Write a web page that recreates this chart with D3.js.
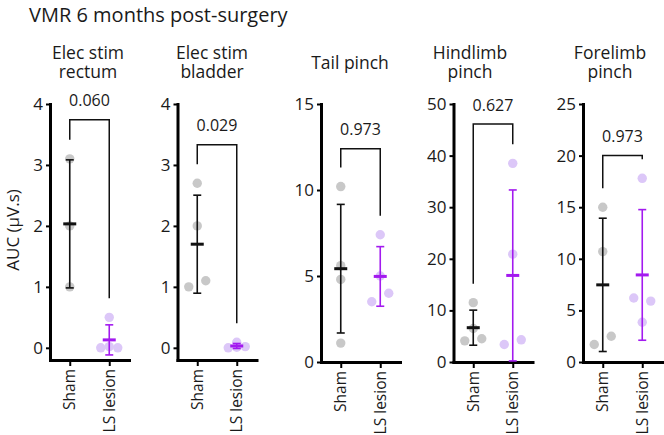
<!DOCTYPE html>
<html><head><meta charset="utf-8">
<script src="https://cdn.jsdelivr.net/npm/d3@7"></script>
<style>
body{margin:0;background:#fff}
text{font-family:"Open Sans",sans-serif;fill:#1a1a1a}
</style>
</head><body>
<svg id="chart" width="664" height="435"></svg>
<script>
// ---------- data ----------
const groups = ["Sham", "LS lesion"];
const chartTitle = "VMR 6 months post-surgery";
const yAxisLabel = "AUC (\u00B5V.s)";
const titles = [["Elec stim","rectum"],["Elec stim","bladder"],["Tail pinch"],["Hindlimb","pinch"],["Forelimb","pinch"]];
const shamValues   = [[3.1,2.0,1.0],[2.7,2.0,1.0,1.1],[10.2,5.6,4.8,1.1],[11.5,6.5,4.1,4.5],[15.0,10.7,1.7,2.5]];
const lesionValues = [[0.5,0.0,0.02,0.0],[0.0,0.09,0.01,0.02],[7.4,5.0,3.5,4.0],[38.5,20.9,3.4,4.3],[17.8,6.2,5.9,3.85]];
const yMin = [-0.2,-0.2,0,0,0];
const yMax = [4,4,15,50,25];
const yTicks = [[0,1,2,3,4],[0,1,2,3,4],[0,5,10,15],[0,10,20,30,40,50],[0,5,10,15,20,25]];
const pValues = ["0.060","0.029","0.973","0.627","0.973"];
const bracketTop = [3.74,3.33,12.4,46.1,20.0];

// ---------- layout / style ----------
const panelLeft = [50,177.5,321,453.5,583];
const panelBottom = [360,360,362,362,362];
const titleCenter = [88,212,350,470,610];
const plotTop = 104, axisW = 79;
const colors = {Sham:{line:"#111111", dot:"#c8c8c8"}, "LS lesion":{line:"#a31aef", dot:"#dcc7f8"}};
const R = 4.7, S = 8.5;

const svg = d3.select("#chart");
svg.append("text").attr("x",29).attr("y",21.5).attr("font-size",20).text(chartTitle);
svg.append("text").attr("transform","translate(19,230) rotate(-90)")
  .attr("text-anchor","middle").attr("font-size",17).text(yAxisLabel);

function swarm(vals, y){
  // cluster overlapping points, spread them sideways
  const idx = vals.map((v,i)=>i).sort((a,b)=>y(vals[a])-y(vals[b]));
  const clusters = [];
  let cur = [idx[0]];
  for(let k=1;k<idx.length;k++){
    if (Math.abs(y(vals[idx[k]])-y(vals[idx[k-1]])) < 2*R) cur.push(idx[k]);
    else { clusters.push(cur); cur=[idx[k]]; }
  }
  clusters.push(cur);
  const off = new Array(vals.length).fill(0);
  clusters.forEach(c=>{
    if (c.length<2) return;
    const ord = c.slice().sort((a,b)=>a-b);
    ord.forEach((i,j)=>{ off[i] = j===0 ? -S : (j===ord.length-1 ? S : 0); });
  });
  return off;
}

titles.forEach((tl,p)=>{
  const g = svg.append("g").attr("transform",`translate(${panelLeft[p]},0)`);
  const bottom = panelBottom[p];
  const y = d3.scaleLinear().domain([yMin[p],yMax[p]]).range([bottom,plotTop]);
  const x = d3.scalePoint().domain(groups).range([0,axisW]).padding(0.5);

  // title (one text element, lines as tspans)
  const tc = titleCenter[p]-panelLeft[p];
  const tt = g.append("text").attr("x",tc).attr("y", tl.length===2 ? 58.5 : 68.5)
      .attr("text-anchor","middle").attr("font-size",17.5);
  tl.forEach((t,k)=> tt.append("tspan").attr("x",tc).attr("dy", k===0 ? 0 : 19).text(t));

  // axes
  const ya = g.append("g").call(d3.axisLeft(y).tickValues(yTicks[p]).tickFormat(d3.format("d"))
      .tickSize(4).tickPadding(3).tickSizeOuter(0));
  ya.select(".domain").attr("stroke","#000").attr("stroke-width",3).attr("stroke-linecap","square");
  ya.selectAll(".tick line").attr("stroke","#000").attr("stroke-width",2);
  ya.selectAll(".tick text").attr("font-size",17).attr("font-family","Open Sans").attr("fill","#1a1a1a");

  const xa = g.append("g").attr("transform",`translate(0,${bottom})`)
    .call(d3.axisBottom(x).tickSize(6).tickSizeOuter(0));
  xa.select(".domain").attr("stroke","#000").attr("stroke-width",3).attr("stroke-linecap","square");
  xa.selectAll(".tick line").attr("stroke","#000").attr("stroke-width",2);
  xa.selectAll(".tick text").remove();
  groups.forEach(gr=>{
    g.append("text").attr("transform",`translate(${x(gr)},${bottom+9}) rotate(-90)`)
      .attr("text-anchor","end").attr("dy","0.35em").attr("font-size",15.5).text(gr);
  });

  // points + error bars (mean ± SD)
  const sets = [[groups[0],shamValues[p]],[groups[1],lesionValues[p]]];
  const tops = [];
  sets.forEach(([gr,vals])=>{
    const off = swarm(vals,y);
    g.append("g").selectAll("circle").data(vals).join("circle")
      .attr("cx",(d,i)=>x(gr)+off[i]).attr("cy",d=>y(d)).attr("r",R)
      .attr("fill",colors[gr].dot);
    const m = d3.mean(vals), sd = d3.deviation(vals);
    const lo = Math.max(m-sd, yMin[p]), hi = m+sd;
    const c = colors[gr].line, cx = x(gr);
    const eb = g.append("g").attr("stroke",c).attr("fill","none");
    eb.append("line").attr("x1",cx).attr("x2",cx).attr("y1",y(lo)).attr("y2",y(hi)).attr("stroke-width",1.6);
    eb.append("line").attr("x1",cx-4).attr("x2",cx+4).attr("y1",y(hi)).attr("y2",y(hi)).attr("stroke-width",1.6);
    if (m-sd >= yMin[p]) eb.append("line").attr("x1",cx-4).attr("x2",cx+4).attr("y1",y(lo)).attr("y2",y(lo)).attr("stroke-width",1.6);
    eb.append("line").attr("x1",cx-6.5).attr("x2",cx+6.5).attr("y1",y(m)).attr("y2",y(m)).attr("stroke-width",3);
    tops.push(Math.min(y(d3.max(vals)), y(hi)) - 19);
  });

  // significance bracket
  const bt = y(bracketTop[p]);
  const x0 = x(groups[0]), x1 = x(groups[1]);
  g.append("path").attr("d",`M${x0},${tops[0]}V${bt}H${x1}V${tops[1]}`)
    .attr("fill","none").attr("stroke","#111").attr("stroke-width",1.5);
  g.append("text").attr("x",(x0+x1)/2).attr("y",bt-13.5).attr("text-anchor","middle")
    .attr("font-size",16).text(pValues[p]);
});
</script>
</body></html>
